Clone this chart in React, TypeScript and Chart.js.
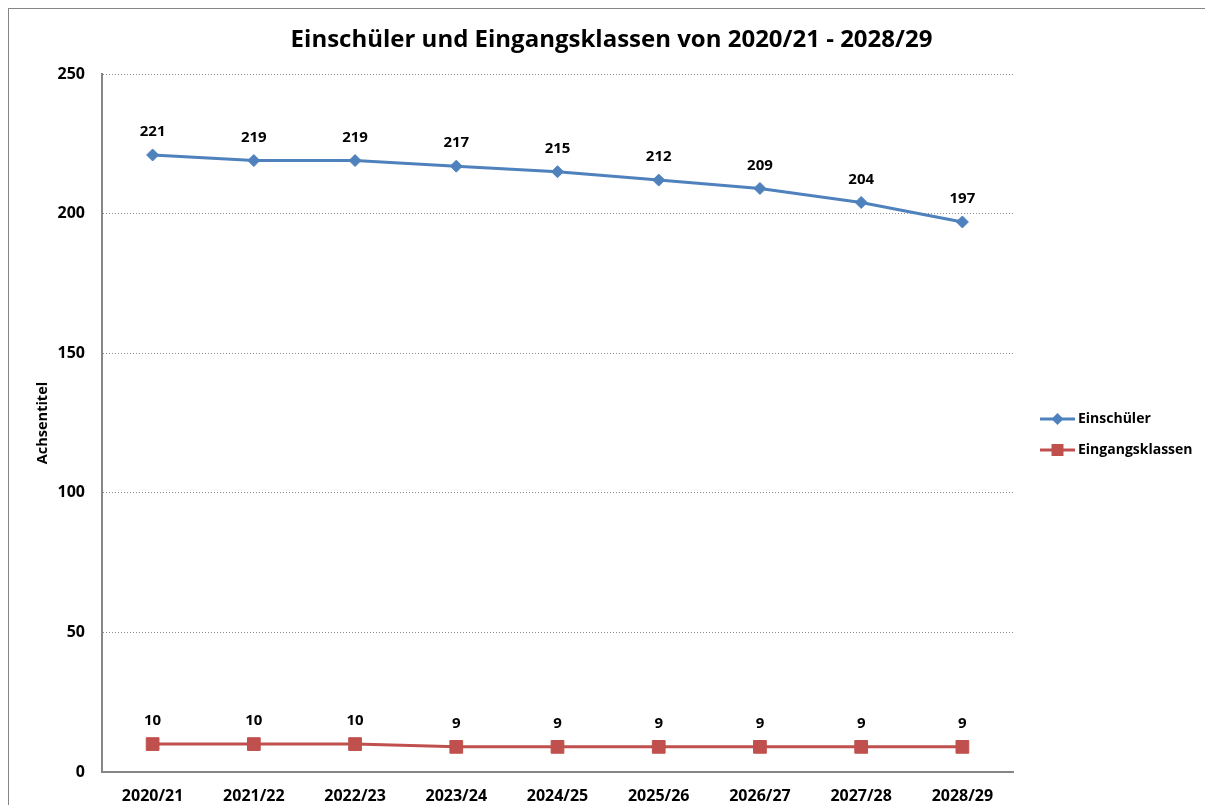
import React, { useEffect, useRef } from "react";
import { Chart, registerables } from "chart.js";

Chart.register(...registerables);

const categories = ["2020/21", "2021/22", "2022/23", "2023/24", "2024/25", "2025/26", "2026/27", "2027/28", "2028/29"];
const einschueler = [221, 219, 219, 217, 215, 212, 209, 204, 197];
const eingangsklassen = [10, 10, 10, 9, 9, 9, 9, 9, 9];
const seriesNames = ["Einschüler", "Eingangsklassen"];
const chartTitle = "Einschüler und Eingangsklassen von 2020/21 - 2028/29";
const yAxisTitle = "Achsentitel";
const yMin = 0;
const yMax = 250;
const yStep = 50;
const figureLabel = "Abb. 3";

const BLUE = "#4F81BD";
const RED = "#C0504D";
const FONT = "'Open Sans', Lato, sans-serif";

const dataLabelsPlugin = {
  id: "dataLabels",
  afterDatasetsDraw(chart: any) {
    const ctx = chart.ctx;
    ctx.save();
    ctx.font = `bold 15px ${FONT}`;
    ctx.fillStyle = "#000";
    ctx.textAlign = "center";
    ctx.textBaseline = "middle";
    chart.data.datasets.forEach((ds: any, i: number) => {
      const meta = chart.getDatasetMeta(i);
      meta.data.forEach((pt: any, j: number) => {
        ctx.fillText(String(ds.data[j]), pt.x, pt.y - 23);
      });
    });
    ctx.restore();
  },
};

const sideLegendPlugin = {
  id: "sideLegend",
  afterDraw(chart: any) {
    const { ctx, chartArea } = chart;
    const x0 = chartArea.right + 27;
    const yc = (chartArea.top + chartArea.bottom) / 2 - 4;
    ctx.save();
    chart.data.datasets.forEach((ds: any, i: number) => {
      const y = yc + i * 31;
      ctx.strokeStyle = ds.borderColor;
      ctx.lineWidth = 3;
      ctx.beginPath();
      ctx.moveTo(x0, y);
      ctx.lineTo(x0 + 35, y);
      ctx.stroke();
      const mx = x0 + 17.5;
      ctx.fillStyle = ds.borderColor;
      ctx.beginPath();
      if (ds.pointStyle === "rectRot") {
        const r = 6;
        ctx.moveTo(mx, y - r);
        ctx.lineTo(mx + r, y);
        ctx.lineTo(mx, y + r);
        ctx.lineTo(mx - r, y);
        ctx.closePath();
      } else {
        const s = 6;
        ctx.rect(mx - s, y - s, 2 * s, 2 * s);
      }
      ctx.fill();
      ctx.fillStyle = "#000";
      ctx.font = `bold 14px ${FONT}`;
      ctx.textAlign = "left";
      ctx.textBaseline = "middle";
      ctx.fillText(ds.label, x0 + 38, y);
    });
    ctx.restore();
  },
};

export default function App() {
  const canvasRef = useRef<HTMLCanvasElement | null>(null);

  useEffect(() => {
    document.documentElement.style.overflow = "hidden";
    const canvas = canvasRef.current;
    if (!canvas) return;
    const chart = new Chart(canvas, {
      type: "line",
      data: {
        labels: categories,
        datasets: [
          {
            label: seriesNames[0],
            data: einschueler,
            borderColor: BLUE,
            backgroundColor: BLUE,
            borderWidth: 3,
            pointStyle: "rectRot",
            pointRadius: 6,
            pointBorderWidth: 1,
            pointBackgroundColor: BLUE,
            pointBorderColor: BLUE,
            tension: 0,
          },
          {
            label: seriesNames[1],
            data: eingangsklassen,
            borderColor: RED,
            backgroundColor: RED,
            borderWidth: 3,
            pointStyle: "rect",
            pointRadius: 9,
            pointBorderWidth: 1,
            pointBackgroundColor: RED,
            pointBorderColor: RED,
            tension: 0,
          },
        ],
      },
      options: {
        responsive: false,
        animation: false,
        layout: { padding: { left: 2, right: 0, top: 0, bottom: 0 } },
        plugins: {
          legend: { display: false },
          tooltip: { enabled: false },
          title: {
            display: true,
            text: chartTitle,
            color: "#000",
            font: { family: FONT, size: 24, weight: "bold" },
            padding: { top: 16.6, bottom: 19.6 },
          },
        },
        scales: {
          x: {
            offset: true,
            grid: { display: false, drawTicks: false },
            border: { display: true, color: "#868686", width: 2 },
            ticks: {
              color: "#000",
              padding: 15,
              maxRotation: 0,
              autoSkip: false,
              font: { family: FONT, size: 16, weight: "bold" },
            },
            afterFit: (scale: any) => {
              scale.height = 33;
            },
          },
          y: {
            min: yMin,
            max: yMax,
            grid: { color: "#8c8c8c", lineWidth: 1, drawTicks: false },
            border: { display: true, color: "#868686", width: 2, dash: [1, 2] },
            ticks: {
              stepSize: yStep,
              color: "#000",
              padding: 17,
              font: { family: FONT, size: 16, weight: "bold" },
            },
            title: {
              display: true,
              text: yAxisTitle,
              color: "#000",
              font: { family: FONT, size: 14.5, weight: "bold" },
              padding: { top: 23.3, bottom: 0 },
            },
            afterFit: (scale: any) => {
              scale.width = 91;
            },
          },
          legendSpace: {
            type: "linear",
            position: "right",
            display: true,
            grid: { display: false, drawTicks: false },
            border: { display: false },
            ticks: { display: false },
            afterFit: (scale: any) => {
              scale.width = 199;
            },
          },
        },
      },
      plugins: [dataLabelsPlugin, sideLegendPlugin],
    });
    return () => chart.destroy();
  }, []);

  return (
    <div style={{ position: "relative", width: 1205, height: 797, boxSizing: "border-box", borderLeft: "1px solid #868686", borderTop: "1px solid #868686", borderRight: "1px solid #868686" }}>
      <div style={{ position: "absolute", left: -8, top: -24, fontFamily: FONT, fontSize: 22, color: "#000", lineHeight: "22px", whiteSpace: "nowrap" }}>{figureLabel}</div>
      <canvas ref={canvasRef} width={1203} height={796} style={{ display: "block" }} />
    </div>
  );
}
